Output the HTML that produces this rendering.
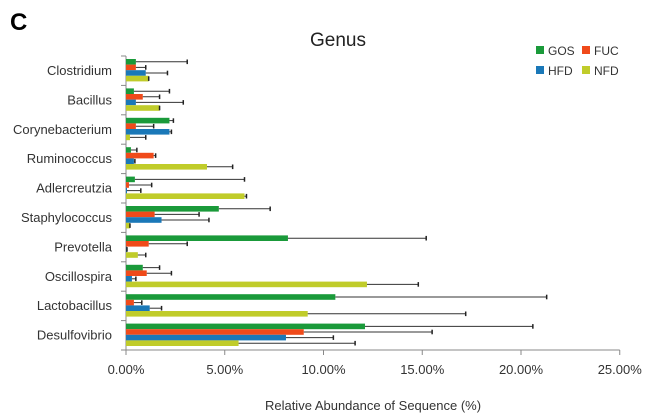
<!DOCTYPE html>
<html><head><meta charset="utf-8"><style>
body{margin:0;background:#fff;width:671px;height:415px;overflow:hidden}
text{font-family:"Liberation Sans",sans-serif}
</style></head><body>
<svg id="s" width="671" height="415" xmlns="http://www.w3.org/2000/svg">
<text x="10" y="30" font-size="24" font-weight="bold" fill="#000">C</text>
<text x="338" y="46" font-size="19" text-anchor="middle" fill="#222">Genus</text>
<rect x="536" y="46" width="8" height="8" fill="#1a9a3a"/><text x="548" y="55" font-size="12" fill="#333">GOS</text>
<rect x="582" y="46" width="8" height="8" fill="#f04a1a"/><text x="594" y="55" font-size="12" fill="#333">FUC</text>
<rect x="536" y="66" width="8" height="8" fill="#1a78b8"/><text x="548" y="75" font-size="12" fill="#333">HFD</text>
<rect x="582" y="66" width="8" height="8" fill="#c0cc2a"/><text x="594" y="75" font-size="12" fill="#333">NFD</text>
<g id="g"></g>
<text x="373" y="410" font-size="13" text-anchor="middle" fill="#333">Relative Abundance of Sequence (%)</text>
</svg>
<script>
var d=[
["Clostridium",[[0.5,3.1],[0.5,1.0],[1.0,2.1],[1.15,1.15]]],
["Bacillus",[[0.4,2.2],[0.85,1.7],[0.5,2.9],[1.7,1.7]]],
["Corynebacterium",[[2.2,2.4],[0.5,1.4],[2.2,2.3],[0.2,1.0]]],
["Ruminococcus",[[0.25,0.55],[1.4,1.5],[0.4,0.45],[4.1,5.4]]],
["Adlercreutzia",[[0.45,6.0],[0.15,1.3],[0.05,0.75],[6.0,6.1]]],
["Staphylococcus",[[4.7,7.3],[1.45,3.7],[1.8,4.2],[0.2,0.2]]],
["Prevotella",[[8.2,15.2],[1.15,3.1],[0.05,0.05],[0.6,1.0]]],
["Oscillospira",[[0.85,1.7],[1.05,2.3],[0.3,0.5],[12.2,14.8]]],
["Lactobacillus",[[10.6,21.3],[0.4,0.8],[1.2,1.8],[9.2,17.2]]],
["Desulfovibrio",[[12.1,20.6],[9.0,15.5],[8.1,10.5],[5.7,11.6]]]];
var c=["#1a9a3a","#f04a1a","#1a78b8","#c0cc2a"];
var x0=126,sx=19.75,y0=56,gh=29.4,h="";
h+='<line x1="'+x0+'" y1="'+y0+'" x2="'+x0+'" y2="350" stroke="#888"/>';
h+='<line x1="'+x0+'" y1="350" x2="'+(x0+25*sx)+'" y2="350" stroke="#888"/>';
for(var k=0;k<=5;k++){var x=x0+k*5*sx;h+='<line x1="'+x+'" y1="350" x2="'+x+'" y2="355" stroke="#888"/><text x="'+x+'" y="374" font-size="13" text-anchor="middle" fill="#333">'+(k*5).toFixed(2)+'%</text>';}
for(var i=0;i<=10;i++){var y=y0+i*gh;h+='<line x1="'+(x0-5)+'" y1="'+y+'" x2="'+x0+'" y2="'+y+'" stroke="#888"/>';}
d.forEach(function(r,i){var gy=y0+i*gh+3;
h+='<text x="112" y="'+(gy+16)+'" font-size="13" text-anchor="end" fill="#333">'+r[0]+'</text>';
r[1].forEach(function(v,j){var y=gy+j*5.6,bw=v[0]*sx,ex=x0+v[1]*sx;
h+='<rect x="'+x0+'" y="'+y+'" width="'+bw+'" height="5.6" fill="'+c[j]+'"/>';
if(v[1]>v[0]){h+='<line x1="'+(x0+bw)+'" y1="'+(y+2.8)+'" x2="'+ex+'" y2="'+(y+2.8)+'" stroke="#333" stroke-width="1"/>';}
h+='<line x1="'+ex+'" y1="'+(y+0.5)+'" x2="'+ex+'" y2="'+(y+5.1)+'" stroke="#222" stroke-width="1.5"/>';});});
document.getElementById("g").innerHTML=h;
</script>
</body></html>
